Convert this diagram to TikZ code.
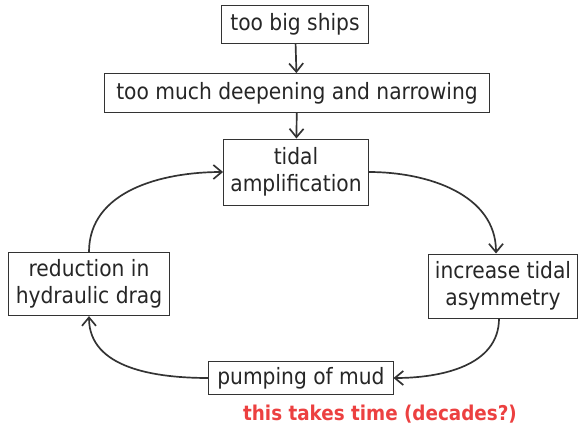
\documentclass[tikz,border=0pt]{standalone}
\usepackage{fontspec}
\setmainfont{DejaVu Sans Condensed}
\usepackage{tikz}
\usetikzlibrary{arrows.meta,positioning,calc}

\begin{document}
\begin{tikzpicture}[x=0.025cm,y=-0.025cm,
  box/.style={draw=black!80, line width=0.7pt, align=center, inner sep=2pt,
    font=\fontsize{16}{19}\selectfont, text=black!85},
  flow/.style={-{Straight Barb[length=6pt,width=10pt]}, line width=1.2pt, draw=black!80}]
\useasboundingbox (0,0) rectangle (578,433);

% chain on top
\draw (295,24) node[box, minimum width=3.65cm, minimum height=0.95cm] (ships) {too big ships};
\draw (297,93) node[box, minimum width=9.62cm, minimum height=0.97cm] (deep) {too much deepening and narrowing};
\draw (296,172) node[box, minimum width=3.62cm, minimum height=1.65cm] (tidal) {tidal\\amplification};

% the loop
\draw (89,284) node[box, minimum width=4.02cm, minimum height=1.58cm] (drag) {reduction in\\hydraulic drag};
\draw (503,286) node[box, minimum width=3.7cm, minimum height=1.6cm] (asym) {increase tidal\\asymmetry};
\draw (301,378) node[box, minimum width=4.6cm, minimum height=0.83cm] (mud) {pumping of mud};

\node[font=\fontsize{14.5}{17}\selectfont\bfseries, text={rgb,255:red,236;green,64;blue,64}] (note) at (380,414) {this takes time (decades?)};

\path[flow]
(ships) edge (deep)
(deep) edge (tidal);

\draw[flow] (drag.north) to[out=90,in=180] (tidal.west);
\draw[flow] (tidal.east) to[out=0,in=90] ($(asym.north)+(-7,0)$);
\draw[flow] ($(asym.south)+(-4,0)$) to[out=-90,in=0] (mud.east);
\draw[flow] (mud.west) to[out=180,in=-90] (drag.south);

\end{tikzpicture}
\end{document}
